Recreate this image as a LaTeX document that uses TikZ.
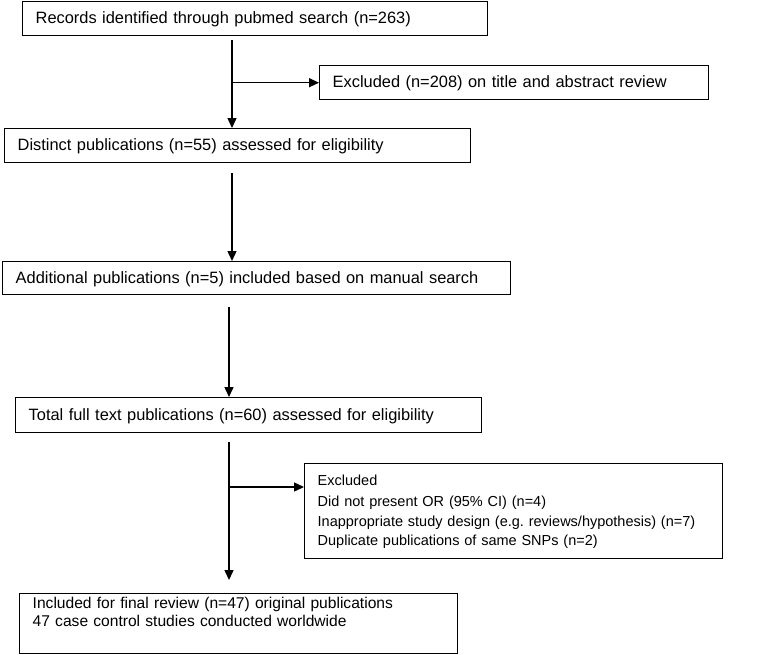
\documentclass[tikz,border=0pt]{standalone}
\usepackage{fontspec}
\setmainfont{Liberation Sans}
\usetikzlibrary{arrows.meta}

\tikzset{
  box/.style={draw, line width=1.4pt, anchor=north west, align=left,
    inner xsep=13pt, inner ysep=0pt, text height=22pt, text depth=12pt,
    font=\fontsize{16.4}{19.5}\selectfont},
  flow/.style={line width=1.4pt, -{Triangle[length=10pt,width=9pt]}}
}

\begin{document}
\begin{tikzpicture}[x=1pt,y=-1pt]
    \useasboundingbox (0,0) rectangle (781,654);
    % main column
    \node[box, text width=439pt] (rec) at (22,1) {Records identified through pubmed search (n=263)};
    \node[box, text width=440pt] (dist) at (4,128) {Distinct publications (n=55) assessed for eligibility};
    \node[box, text width=482pt, text depth=11pt] (add) at (2,261) {Additional publications (n=5) included based on manual search};
    \node[box, text width=440pt, text height=23pt] (tot) at (15,397) {Total full text publications (n=60) assessed for eligibility};
    \node[box, text width=412pt, text height=15pt, text depth=45pt,
      font=\fontsize{15.6}{17.5}\selectfont] (fin) at (19,593)
      {Included for final review (n=47) original publications\\47 case control studies conducted worldwide};
    % exclusions
    \node[box, text width=363pt] (excl1) at (319,65) {Excluded (n=208) on title and abstract review};
    \node[box, text width=392pt, text depth=73pt,
      font=\fontsize{14.5}{19.5}\selectfont] (excl2) at (304,463)
      {Excluded\\[1.5pt]Did not present OR (95\% CI) (n=4)\\Inappropriate study design (e.g.\ reviews/hypothesis) (n=7)\\Duplicate publications of same SNPs (n=2)};
    % trunks
    \coordinate (tA) at (232,0);
    \coordinate (tB) at (229,0);
    \coordinate (br2) at (0,487);
    \draw[flow, shorten <=4pt] (rec.south -| tA) -- (dist.north -| tA);
    \draw[flow] (tA |- excl1.west) -- (excl1.west);
    \draw[flow, shorten <=10pt] (dist.south -| tA) -- (add.north -| tA);
    \draw[flow, shorten <=12pt] (add.south -| tB) -- (tot.north -| tB);
    \draw[flow, shorten <=9pt, shorten >=13pt] (tot.south -| tB) -- (fin.north -| tB);
    \draw[flow] (tB |- br2) -- (excl2.west |- br2);
\end{tikzpicture}
\end{document}
